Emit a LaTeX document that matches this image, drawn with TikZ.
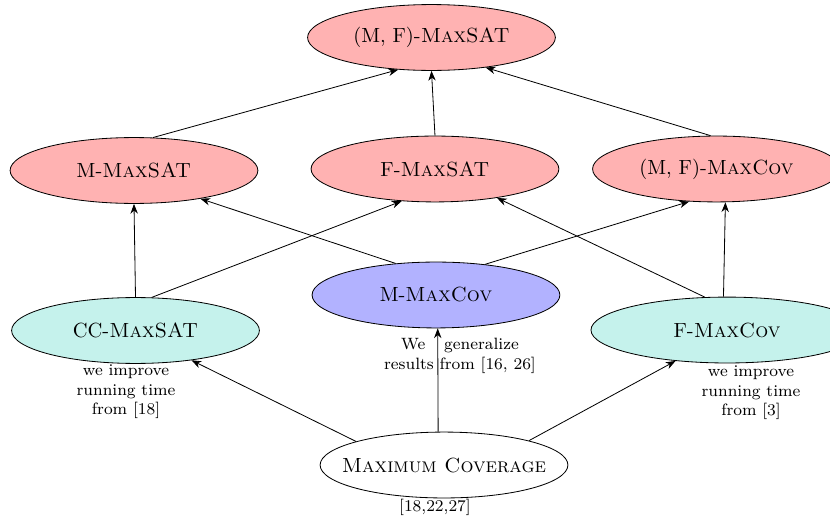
\documentclass[tikz,border=0pt]{standalone}
\usepackage{tikz}
\usetikzlibrary{shapes.geometric}
\usetikzlibrary{arrows.meta}
\definecolor{ccfill}{RGB}{197,242,236}
\newcommand{\maxsat}{\textsc{MaxSAT}}
\newcommand{\maxcov}{\textsc{MaxCov}}

\begin{document}
\begin{tikzpicture}[
    prob/.style={ellipse, draw, minimum width=4.25cm, minimum height=1.13cm, inner sep=1pt},
    hard/.style={prob, fill=red!30},
    gen/.style={prob, fill=blue!30},
    easy/.style={prob, fill=ccfill},
    note/.style={font=\footnotesize, align=center, inner sep=0pt},
    >={Stealth}]
    \useasboundingbox (0,0) rectangle (14.235,-8.935);

    % top level
    \node[hard] (mfsat) at (7.40,-0.643) {(M, F)-\maxsat};

    % second level
    \node[hard] (msat) at (2.298,-2.924) {M-\maxsat};
    \node[hard] (fsat) at (7.460,-2.898) {F-\maxsat};
    \node[hard] (mfcov) at (12.288,-2.898) {(M, F)-\maxcov};

    % third level
    \node[gen] (mcov) at (7.477,-5.059) {M-\maxcov};
    \node[easy] (ccsat) at (2.324,-5.668) {CC-\maxsat};
    \node[easy, minimum width=4.665cm] (fcov) at (12.468,-5.660) {F-\maxcov};

    % bottom
    \node[prob, inner xsep=-7.8pt] (maxc) at (7.615,-7.975) {\textsc{Maximum Coverage}};

    % notes
    \node[note] (ccnote) at (2.161,-6.723) {we improve\\running time\\from [18]};
    \node[note] (fnote) at (12.880,-6.740) {we improve\\running time\\from [3]};
    \node[note] (mnote) at (7.889,-6.105) {We\hspace{1.15em}generalize\\results from [16, 26]};
    \node[note] (refs) at (7.460,-8.695) {[18,22,27]};

    % arrows to the top
    \draw[->] (msat.60) -- (mfsat.224);
    \draw[->] (fsat.north) -- (mfsat.south);
    \draw[->] (mfcov.100) -- (mfsat.331);

    % arrows to the second level
    \draw[->] (ccsat.north) -- (msat.south);
    \draw[->] (ccsat.64) -- (fsat.224);
    \draw[->] (mcov.142) -- (msat.337);
    \draw[->] (mcov.32) -- (mfcov.230);
    \draw[->] (fcov.124) -- (fsat.335);
    \draw[->] (fcov.96) -- (mfcov.285);

    % arrows from maximum coverage
    \draw[->] (maxc.165) -- (ccsat.332);
    \draw[->] (maxc.100) -- (mcov.273);
    \draw[->] (maxc.16) -- (fcov.211);
\end{tikzpicture}
\end{document}
